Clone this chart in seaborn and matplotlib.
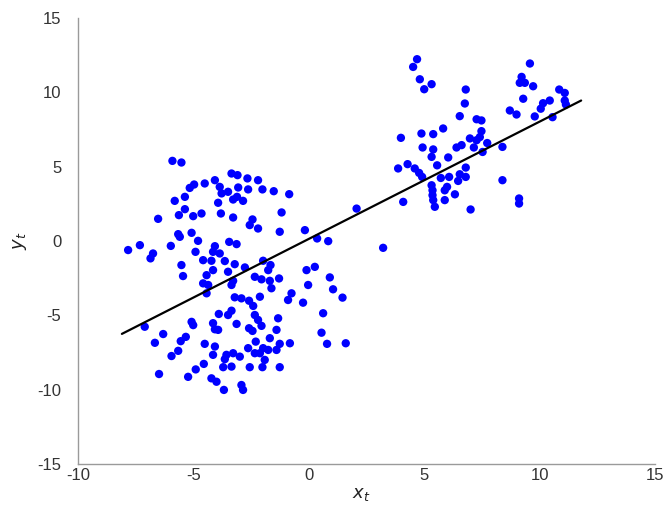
import numpy as np
import pandas as pd
import matplotlib
matplotlib.use('Agg')
import matplotlib.pyplot as plt
import seaborn as sns

# punti (x_t, y_t)
x_vals = [
    -5.91, -5.52, -5.16, -4.97, -5.81, -5.37, -5.37, -5.63, -5.01, -6.53,
    -5.66, -5.59, -5.08, -4.80, -7.32, -7.83, -5.98, -6.75, -6.86, -4.91,
    -5.52, -3.35, -3.09, -2.66, -2.20, -4.07, -4.51, -3.86, -3.78, -3.50,
    -3.06, -2.63, -2.01, -1.52, -0.85, -3.28, -3.11, -2.85, -3.93, -4.65,
    -3.81, -3.28, -1.18, -2.44, -2.56, -2.20, -1.26, -0.17, 0.36, -3.45,
    -3.13, -4.07, -4.15, -3.86, -4.58, -4.22, -3.64, -3.21, -2.77, -1.98,
    -1.66, -1.76, -0.10, 0.26, -4.15, -3.50, -2.34, -1.29, -4.43, -5.45,
    -5.08, -7.11, -6.31, -6.67, -5.33, -5.55, -5.66, -5.95, -4.90, -5.23,
    -6.49, -5.01, -2.05, 0.91, -4.58, -4.36, -3.28, -3.35, -1.69, -1.62,
    -0.03, 1.05, 1.46, -0.75, -0.90, -0.25, -2.12, -3.21, -2.92, -2.59,
    -2.41, -3.35, -3.50, -3.90, -2.34, -2.20, -1.33, -3.13, -4.15, -4.07,
    -3.93, -2.59, -2.44, -2.05, -1.40, 0.62, 0.55, -1.69, -2.30, -4.51,
    -4.07, -0.82, -1.26, 0.79, 1.60, -2.63, -1.98, -1.76, -1.40, -2.12,
    -2.34, -3.57, -3.28, -4.15, -1.91, -2.99, -3.64, -2.56, -2.01, -1.26,
    -3.71, -3.35, -4.55, -4.22, -4.00, -2.92, -2.85, -3.68, -4.43, 2.07,
    0.84, 3.22,
    4.69, 4.52, 4.81, 5.32, 5.00, 6.80, 6.76, 6.54, 7.27, 3.99,
    4.88, 5.39, 5.82, 6.98, 7.27, 4.93, 5.39, 5.32, 6.40, 6.62,
    7.15, 6.04, 3.87, 4.28, 4.59, 4.78, 4.91, 5.56, 5.72, 6.08,
    6.80, 6.54, 6.80, 6.47, 5.32, 5.36, 5.99, 5.89, 6.33, 5.36,
    5.39, 5.46, 5.89, 4.09, 7.01, 9.58, 9.22, 9.14, 9.36, 9.72,
    10.85, 11.09, 9.29, 10.44, 10.15, 11.09, 11.14, 10.05, 8.71, 9.00,
    9.79, 10.56, 7.48, 7.48, 7.41, 7.73, 7.53, 8.39, 8.39, 9.11,
    9.11,
]
y_vals = [
    5.40, 5.29, 3.58, 3.81, 2.71, 2.98, 2.15, 1.75, 1.68, 1.50,
    0.47, 0.29, 0.56, 0.02, -0.27, -0.60, -0.32, -0.83, -1.16, -0.72,
    -1.61, 4.55, 4.44, 4.22, 4.10, 4.10, 3.88, 3.65, 3.21, 3.32,
    3.61, 3.48, 3.48, 3.36, 3.16, 2.80, 2.98, 2.71, 2.58, 1.86,
    1.86, 1.59, 1.93, 1.46, 1.08, 0.85, 0.63, 0.74, 0.18, -0.05,
    -0.20, -0.34, -0.72, -0.83, -1.28, -1.32, -1.34, -1.55, -1.77, -1.32,
    -1.61, -1.95, -1.95, -1.73, -1.95, -2.06, -2.40, -2.51, -2.29, -2.35,
    -5.43, -5.76, -6.25, -6.84, -6.44, -6.73, -7.38, -7.73, -8.63, -9.13,
    -8.94, -5.65, -2.57, -2.44, -2.84, -2.95, -2.67, -2.95, -2.67, -3.17,
    -2.95, -3.24, -3.80, -3.51, -3.96, -4.14, -3.74, -3.78, -3.85, -4.01,
    -4.36, -4.68, -4.97, -4.90, -4.97, -5.30, -5.19, -5.57, -5.52, -5.93,
    -5.97, -5.86, -6.04, -5.70, -5.97, -4.85, -6.16, -6.53, -6.76, -6.91,
    -7.09, -6.87, -6.91, -6.91, -6.87, -7.20, -7.20, -7.32, -7.32, -7.54,
    -7.54, -7.65, -7.54, -7.65, -7.99, -7.77, -7.94, -8.48, -8.48, -8.48,
    -8.48, -8.44, -8.26, -9.23, -9.46, -9.68, -10.01, -10.01, -3.51, 2.19,
    0.00, -0.45,
    12.24, 11.72, 10.89, 10.56, 10.22, 10.20, 9.26, 8.41, 8.20, 6.95,
    7.24, 7.20, 7.58, 6.91, 6.79, 6.30, 6.17, 5.67, 6.30, 6.46,
    6.30, 5.63, 4.89, 5.18, 4.89, 4.59, 4.32, 5.10, 4.25, 4.32,
    4.95, 4.50, 4.32, 4.05, 3.76, 3.42, 3.65, 3.42, 3.15, 3.09,
    2.76, 2.31, 2.76, 2.64, 2.13, 11.95, 11.05, 10.65, 10.65, 10.42,
    10.20, 9.97, 9.58, 9.46, 9.28, 9.46, 9.19, 8.91, 8.79, 8.52,
    8.39, 8.34, 8.12, 7.40, 7.00, 6.60, 6.00, 6.34, 4.10, 2.87,
    2.53,
]

# retta di regressione (estremi)
line_x = [-8.1, 11.8]
line_y = [-6.24, 9.46]

sns.set_style('white')
plt.rcParams['font.family'] = ['Liberation Sans', 'DejaVu Sans']
plt.rcParams['axes.unicode_minus'] = False

df = pd.DataFrame({'x': x_vals, 'y': y_vals})

fig = plt.figure(figsize=(6.67, 5.05), dpi=100)
ax = fig.add_axes([0.117, 0.081, 0.865, 0.883])

sns.scatterplot(data=df, x='x', y='y', ax=ax, color='#0000ff', s=36,
                linewidth=0, edgecolor='none', zorder=3)
ax.plot(line_x, line_y, color='black', linewidth=1.6, zorder=4)

ax.set_xlim(-10, 15)
ax.set_ylim(-15, 15)
ax.set_xticks([-10, -5, 0, 5, 10, 15])
ax.set_yticks([-15, -10, -5, 0, 5, 10, 15])

for s in ['top', 'right']:
    ax.spines[s].set_visible(False)
for s in ['left', 'bottom']:
    ax.spines[s].set_color('#9a9a9a')
    ax.spines[s].set_linewidth(1.0)

ax.tick_params(axis='both', direction='in', length=3, width=0.8,
               color='#b0b0b0', labelcolor='#333333', labelsize=12)
ax.tick_params(axis='y', pad=12)
ax.tick_params(axis='x', pad=3)

ax.set_xlabel('$x_t$', fontsize=13, color='#222222')
ax.set_ylabel('$y_t$', fontsize=13, color='#222222', rotation=90)
# etichette vicino ai bordi, come nell'originale, ma interamente visibili
ax.xaxis.set_label_coords(0.49, -0.05)
ax.yaxis.set_label_coords(-0.085, 0.5)

plt.savefig('out.png', dpi=100)
